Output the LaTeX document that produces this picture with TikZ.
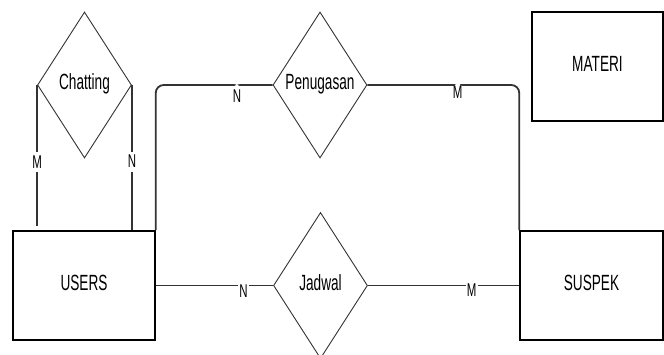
\documentclass[tikz,border=0pt]{standalone}
\usepackage{fontspec}
\setmainfont{Liberation Sans}[FakeStretch=0.62]
\usetikzlibrary{shapes.geometric}
\begin{document}
\begin{tikzpicture}[x=1pt,y=-1pt,
  entity/.style={draw=black, line width=1.5pt, minimum height=109pt, inner sep=0pt,
    text depth=6pt, font=\fontsize{22}{24}\selectfont},
  rel/.style={shape=diamond, draw=black!80, line width=0.9pt, minimum width=94pt,
    minimum height=146pt, inner sep=0pt, text depth=6pt, font=\fontsize{22}{24}\selectfont},
  conn/.style={draw=black!80, line width=1.8pt},
  lbl/.style={fill=white, inner xsep=1pt, inner ysep=0pt, font=\fontsize{18.5}{20}\selectfont}]
\useasboundingbox (0,0) rectangle (664,355);
% entities
\node[entity, minimum width=142pt] (users) at (84,285.5) {USERS};
\node[entity, minimum width=143pt] (suspek) at (591.5,285.5) {SUSPEK};
\node[entity, minimum width=131pt] (materi) at (597.5,66.5) {MATERI};
% relationships
\node[rel] (chat) at (84.5,85) {Chatting};
\node[rel] (tugas) at (320,85) {Penugasan};
\node[rel] (jadwal) at (320.5,285.5) {Jadwal};
% connectors
\draw[conn] (chat.west) -- node[lbl, pos=0.546, minimum height=20pt] {M} ++(0,141);
\draw[conn] (chat.east) -- node[lbl, pos=0.527, minimum height=20pt] {N} (chat.east |- users.north);
\draw[conn, rounded corners=8pt] (users.north east) -- (users.north east |- tugas.west)
  -- node[lbl, pos=0.695, yshift=-11pt, minimum height=24pt] {N} (tugas.west);
\draw[conn, rounded corners=8pt] (tugas.east)
  -- node[lbl, pos=0.595, yshift=-7pt, minimum height=18pt] {M} (tugas.east -| suspek.north west)
  -- (suspek.north west);
\draw[conn] (users.east) -- node[lbl, pos=0.748, yshift=-5.5pt, minimum height=16pt] {N} (jadwal.west);
\draw[conn] (jadwal.east) -- node[lbl, pos=0.686, yshift=-5pt, minimum height=16pt] {M} (suspek.west);
\end{tikzpicture}
\end{document}
